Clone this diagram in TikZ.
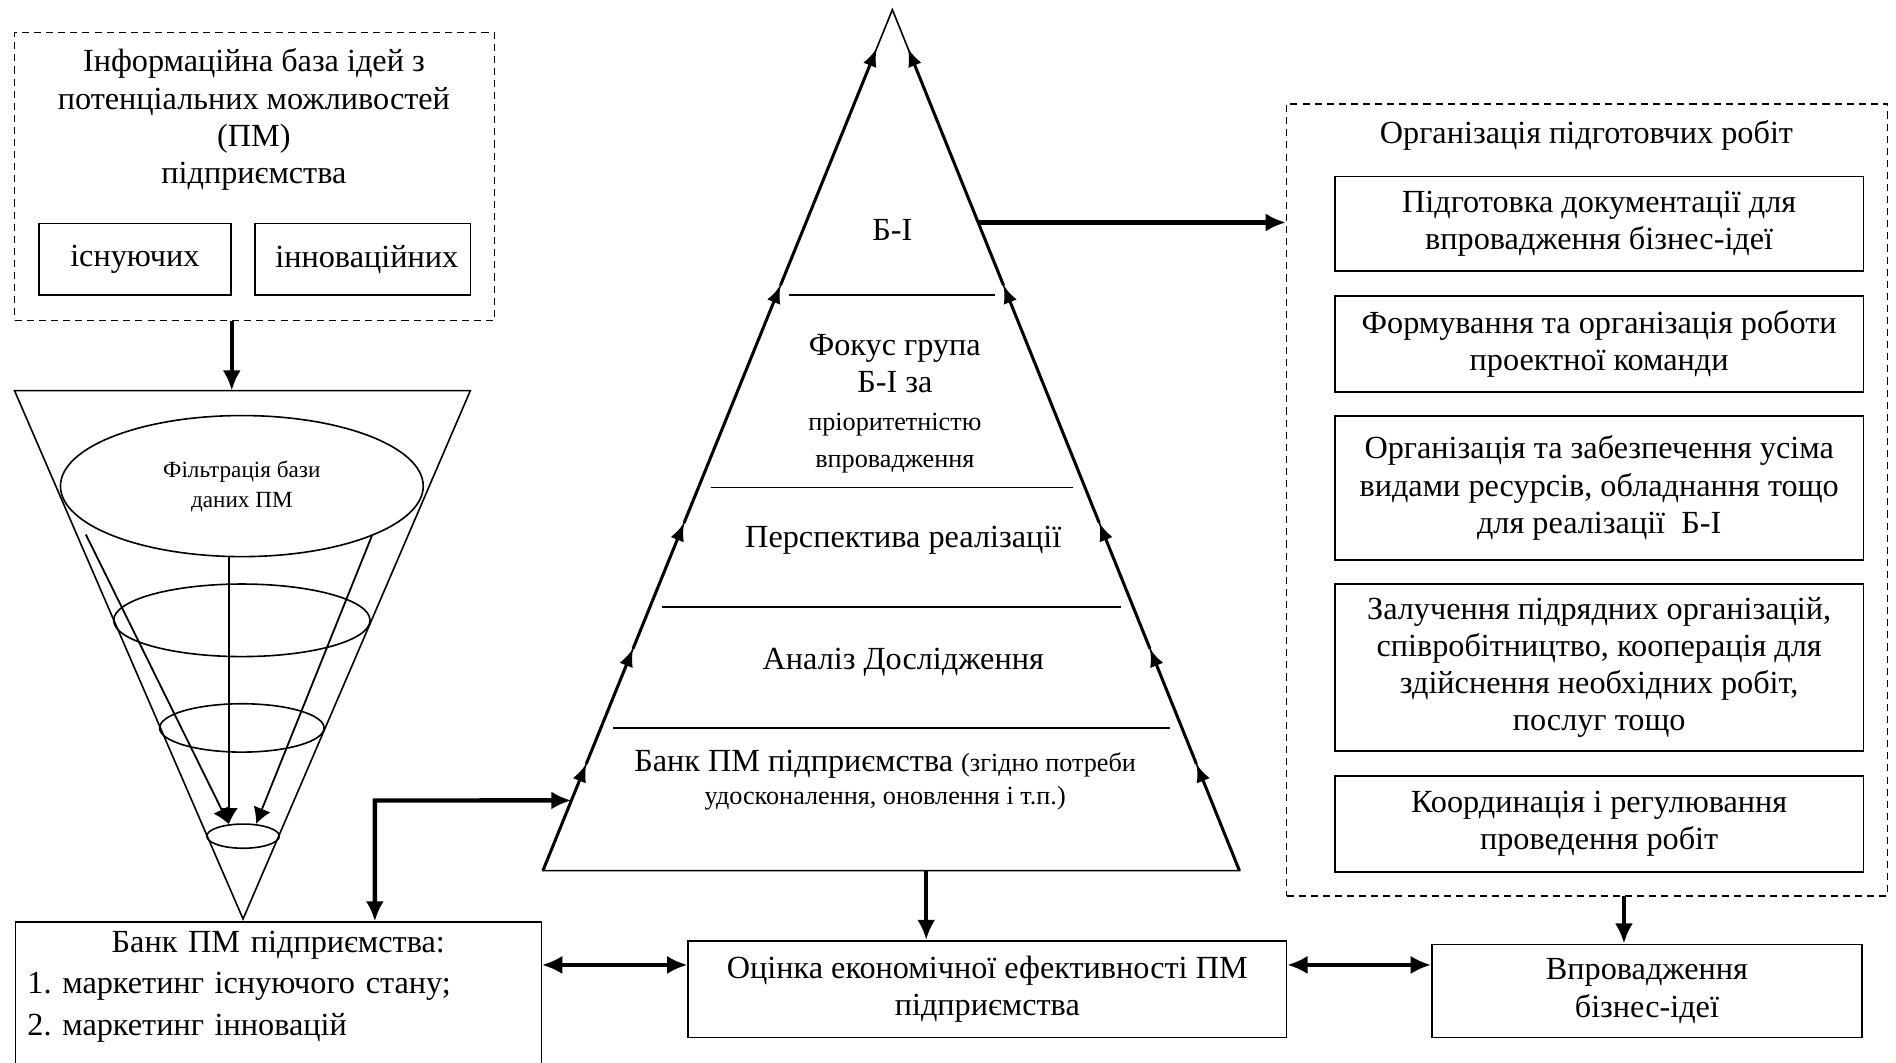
\documentclass[tikz,border=0pt]{standalone}
\usepackage{fontspec}
\setmainfont{Liberation Serif}
\usetikzlibrary{arrows.meta,calc,fit,shapes.geometric}
\begin{document}
\begin{tikzpicture}[x=0.6pt,y=-0.6pt,>={Latex[length=10pt,width=9pt]},
  every node/.style={font=\fontsize{16}{18.5}\selectfont,align=center},
  box/.style={draw,line width=.8pt,inner sep=0pt},
  dbox/.style={draw,line width=.7pt,dash pattern=on 3.5pt off 2.5pt,inner sep=0pt},
  heavy/.style={line width=2.2pt,->},
  twoway/.style={line width=1.6pt,<->},
  side/.style={line width=1.5pt,-{Latex[length=9pt,width=7pt]}},
  flow/.style={line width=.9pt,-{Latex[length=8pt,width=9pt]}}]
\useasboundingbox (0,0) rectangle (1568,879);
\node[dbox,fit={(12,27) (409,265)}] (ideas) {};
\node (ideastitle) at (210,99) {Інформаційна база ідей з\\потенціальних можливостей\\(ПМ)\\підприємства};
\node[box,minimum width=95.4pt,minimum height=35.4pt] (exist) at (111.5,214.5) {існуючих};
\node[box,minimum width=106.8pt,minimum height=35.4pt] (innov) at (300,214.5) {\ інноваційних};
\coordinate (fl) at (12,323);
\coordinate (fr) at (389,323);
\coordinate (fa) at (201,760);
\draw[line width=.8pt] (fl) -- (fr) -- (fa) -- cycle;
\draw[heavy] (ideas.south -| exist.east) -- (exist.east |- fl);
\node[ellipse,draw,line width=.8pt,minimum width=180pt,minimum height=70pt,inner sep=0pt,
  font=\fontsize{11.5}{15}\selectfont] (filter) at (200,402) {Фільтрація бази\\даних ПМ};
\draw[line width=.8pt] (200,513) ellipse [x radius=106,y radius=30];
\draw[line width=.8pt] (200,602) ellipse [x radius=68,y radius=20];
\node[ellipse,draw,line width=.8pt,minimum width=36pt,minimum height=12pt,inner sep=0pt] (pool) at (201,691.5) {};
\coordinate (fl1) at (71,442);
\coordinate (fr1) at (308,442);
\draw[flow] (fl1) -- (pool.140);
\draw[flow] (filter.south -| pool.140) -- (pool.140);
\draw[flow] (fr1) -- (pool.43);
\node[box,anchor=north west,align=left,text width=249pt,inner xsep=6pt,inner ysep=4.5pt,
  font=\fontsize{16}{20.5}\selectfont] (bankpm) at (12,762)
  {\makebox[249pt]{Банк ПМ підприємства:}\\1.\ маркетинг існуючого стану;\\2.\ маркетинг інновацій\\[30pt]\mbox{}};
\coordinate (apex) at (738,8);
\coordinate (bl) at (449,720);
\coordinate (br) at (1025,720);
\draw[line width=.8pt] (bl) -- (apex) -- (br) -- cycle;
\foreach \a/\b in {0/.124,.124/.258,.258/.404,.404/.68,.68/.955}{
  \draw[side] ($(bl)!\a!(apex)$) -- ($(bl)!\b!(apex)$);
  \draw[side] ($(br)!\a!(apex)$) -- ($(br)!\b!(apex)$);
}
\foreach \t in {.1657,.3062,.4452,.6685}
  \draw[line width=.8pt] ($(bl)!\t!(apex)+(10,0)$) -- ($(br)!\t!(apex)+(-10,0)$);
\node (bi) at (738,190) {Б-І};
\node (focus) at (740,334) {Фокус група\\Б-І за\\{\fontsize{13}{15}\selectfont пріоритетністю}\\{\fontsize{13}{15}\selectfont впровадження}};
\node (persp) at (747,447) {Перспектива реалізації};
\node (analysis) at (747,548) {Аналіз Дослідження};
\node (bankidea) at (732,645) {Банк ПМ підприємства {\fontsize{13}{15}\selectfont(згідно потреби}\\[-2pt]{\fontsize{13}{15}\selectfont удосконалення, оновлення і т.п.)}};
\coordinate (banklvl) at ($(bl)!.0815!(apex)$);
\coordinate (lcorner) at (310,662);
\draw[heavy,<->] (bankpm.north -| lcorner) -- (lcorner) -- (banklvl);
\node[dbox,fit={(1064,86) (1561,741)}] (org) {};
\node (orgtitle) at (1312,112) {Організація підготовчих робіт};
\node[box,minimum width=262.2pt,minimum height=46.8pt] (docs) at (1322.5,185) {Підготовка документації для\\впровадження бізнес-ідеї};
\node[box,minimum width=262.2pt,minimum height=47.4pt] (team) at (1322.5,284.5) {Формування та організація роботи\\проектної команди};
\node[box,minimum width=262.2pt,minimum height=71.4pt] (supply) at (1322.5,403.5) {Організація та забезпечення усіма\\видами ресурсів, обладнання тощо\\для реалізації~~Б-І};
\node[box,minimum width=262.2pt,minimum height=82.8pt] (contract) at (1322.5,552) {Залучення підрядних організацій,\\співробітництво, кооперація для\\здійснення необхідних робіт,\\послуг тощо};
\node[box,minimum width=262.2pt,minimum height=47.4pt] (coord) at (1322.5,681.5) {Координація і регулювання\\проведення робіт};
\coordinate (biside) at ($(br)!.7528!(apex)$);
\draw[heavy] (biside) -- (biside -| org.west);
\node[box,minimum width=297pt,minimum height=48pt] (ocinka) at (816.5,818) {Оцінка економічної ефективності ПМ\\підприємства};
\node[box,minimum width=213.6pt,minimum height=46.2pt] (vprov) at (1362,819.5) {Впровадження\\бізнес-ідеї};
\coordinate (drop) at (766,720);
\draw[heavy] (drop) -- (drop |- ocinka.north);
\coordinate (vdrop) at (1343,741);
\draw[heavy] (vdrop) -- (vdrop |- vprov.north);
\coordinate (row) at (0,798);
\draw[twoway] (bankpm.east |- row) -- (ocinka.west |- row);
\draw[twoway] (ocinka.east |- row) -- (vprov.west |- row);
\end{tikzpicture}
\end{document}
